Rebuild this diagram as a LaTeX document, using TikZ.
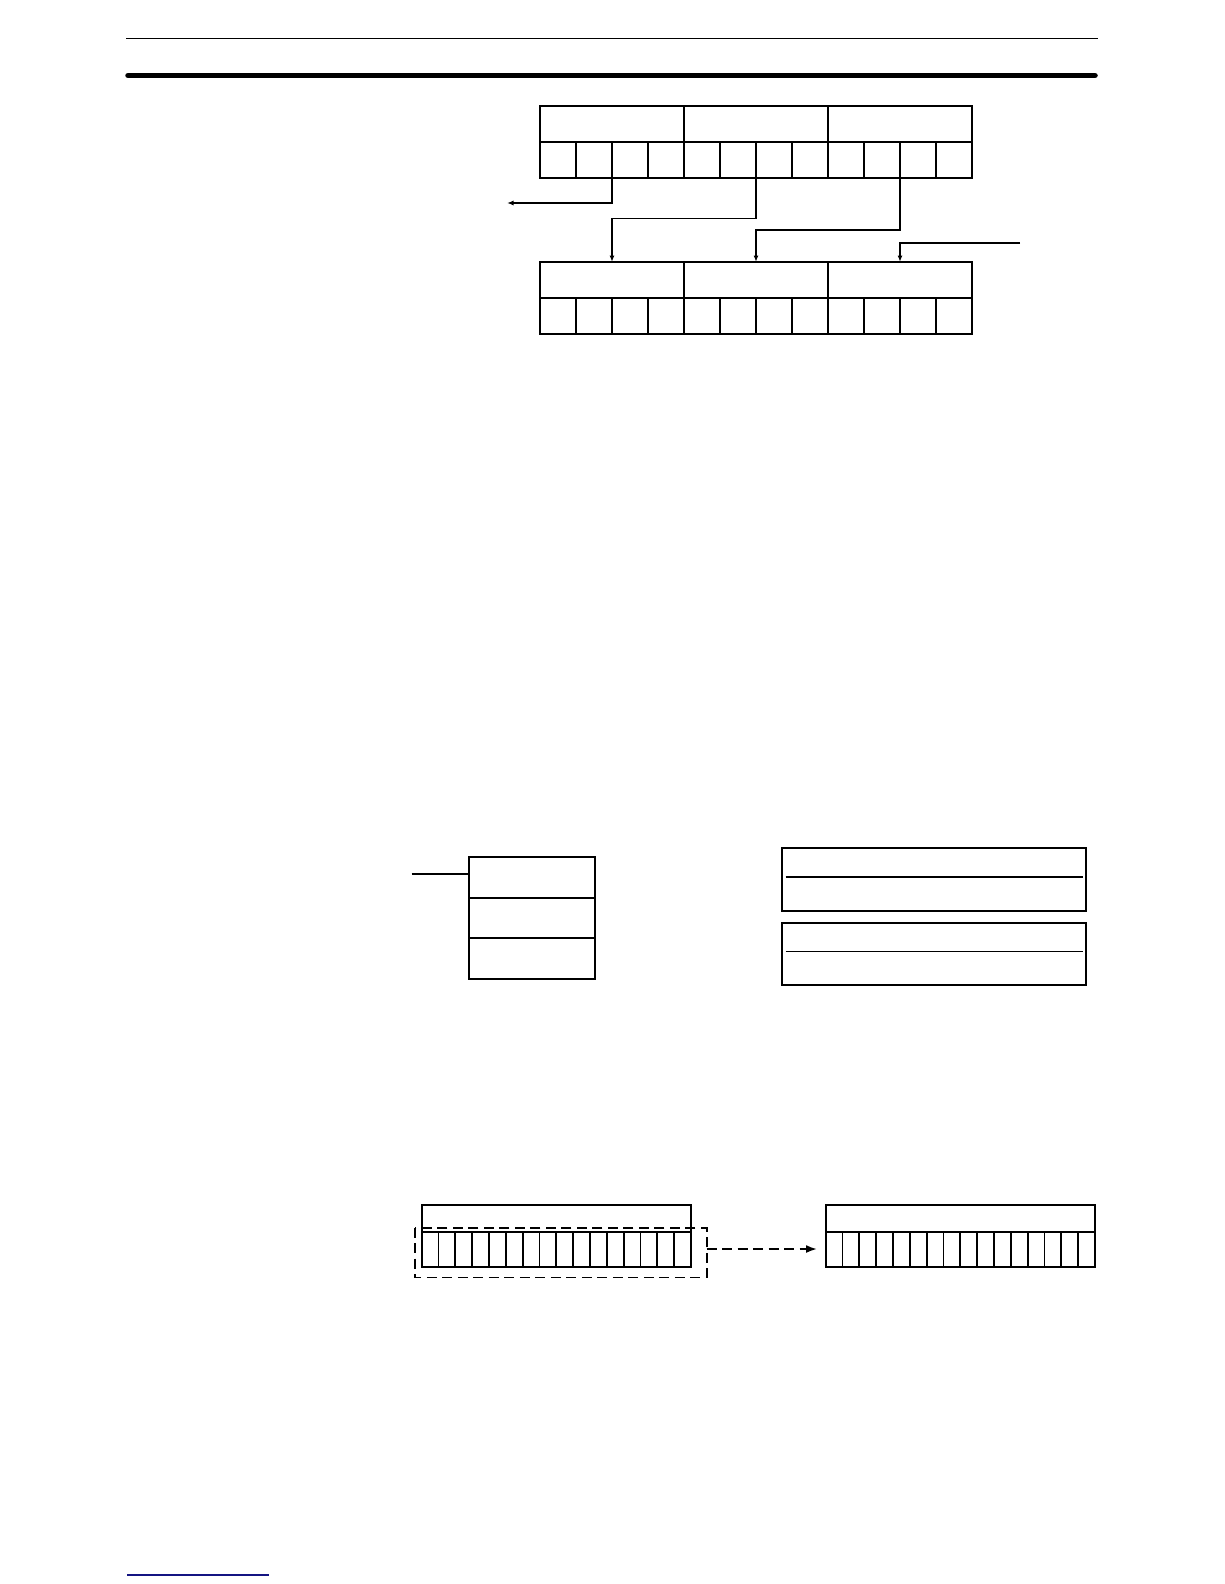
\documentclass[tikz,border=0pt]{standalone}
\usetikzlibrary{arrows.meta}
\begin{document}
\begin{tikzpicture}[x=1pt,y=-1pt,
  reg/.style={line width=1.8pt},
  conn/.style={line width=1.8pt,-{Latex[length=6.5pt,width=5pt]}},
  dashline/.style={line width=1.8pt,dash pattern=on 10pt off 5.5pt}]
\useasboundingbox (0,0) rectangle (1224,1584);
% header / footer
\draw[line width=1.6pt] (126,38.4) -- (1098,38.4);
\draw[line width=5.5pt,line cap=round] (128,75.5) -- (1095,75.5);
\draw[line width=1.5pt,color={rgb,255:red,20;green,20;blue,130}] (127,1575) -- (269,1575);

% ---- top diagram: upper register
\draw[reg] (540,105.7) rectangle (972,177.7);
\draw[reg] (540,141.7) -- (972,141.7);
\foreach \i in {1,2}{\draw[reg] (540+144*\i,105.7) -- (540+144*\i,177.7);}
\foreach \i in {1,...,11}{\draw[reg] (540+36*\i,141.7) -- (540+36*\i,177.7);}
% lower register
\draw[reg] (540,262) rectangle (972,334);
\draw[reg] (540,298) -- (972,298);
\foreach \i in {1,2}{\draw[reg] (540+144*\i,262) -- (540+144*\i,334);}
\foreach \i in {1,...,11}{\draw[reg] (540+36*\i,298) -- (540+36*\i,334);}
% connectors
\coordinate (s1) at (612,177.7);
\coordinate (s2) at (756,177.7);
\coordinate (s3) at (900,177.7);
\coordinate (out) at (507,203);
\coordinate (t1) at (612,262);
\coordinate (t2) at (756,262);
\coordinate (t3) at (900,262);
\coordinate (in) at (1020,243);
\draw[conn] (s1) |- (out);
\draw[conn] (s2) -- (756,218.5) -- (612,218.5) -- (t1);
\draw[conn] (s3) -- (900,230) -- (756,230) -- (t2);
\draw[conn] (in) -- (900,243) -- (t3);

% ---- middle
\draw[reg] (469,857) rectangle (595,979);
\draw[reg] (469,897.7) -- (595,897.7);
\draw[reg] (469,938.3) -- (595,938.3);
\draw[reg] (411.7,874.3) -- (469,874.3);
\draw[reg] (782,848) rectangle (1086,910.7);
\draw[line width=2pt] (785.7,876.7) -- (1082.7,876.7);
\draw[reg] (782,923.3) rectangle (1086,985);
\draw[line width=1pt] (785.7,951) -- (1082.7,951);

% ---- bottom
\draw[reg] (421.7,1205) rectangle (691,1267.3);
\draw[reg] (421.7,1232) -- (691,1232);
\foreach \i in {1,...,15}{\draw[reg] (421.7+16.83*\i,1232) -- (421.7+16.83*\i,1267.3);}
\draw[reg] (825.7,1205) rectangle (1095,1267.3);
\draw[reg] (825.7,1232) -- (1095,1232);
\foreach \i in {1,...,15}{\draw[reg] (825.7+16.83*\i,1232) -- (825.7+16.83*\i,1267.3);}
\draw[dashline] (414.7,1227.7) rectangle (706.7,1277.5);
\coordinate (d1) at (706.7,1249);
\coordinate (d2) at (817,1249);
\draw[dashline,-{Latex[length=11pt,width=8pt]}] (d1) -- (d2);
\end{tikzpicture}
\end{document}
